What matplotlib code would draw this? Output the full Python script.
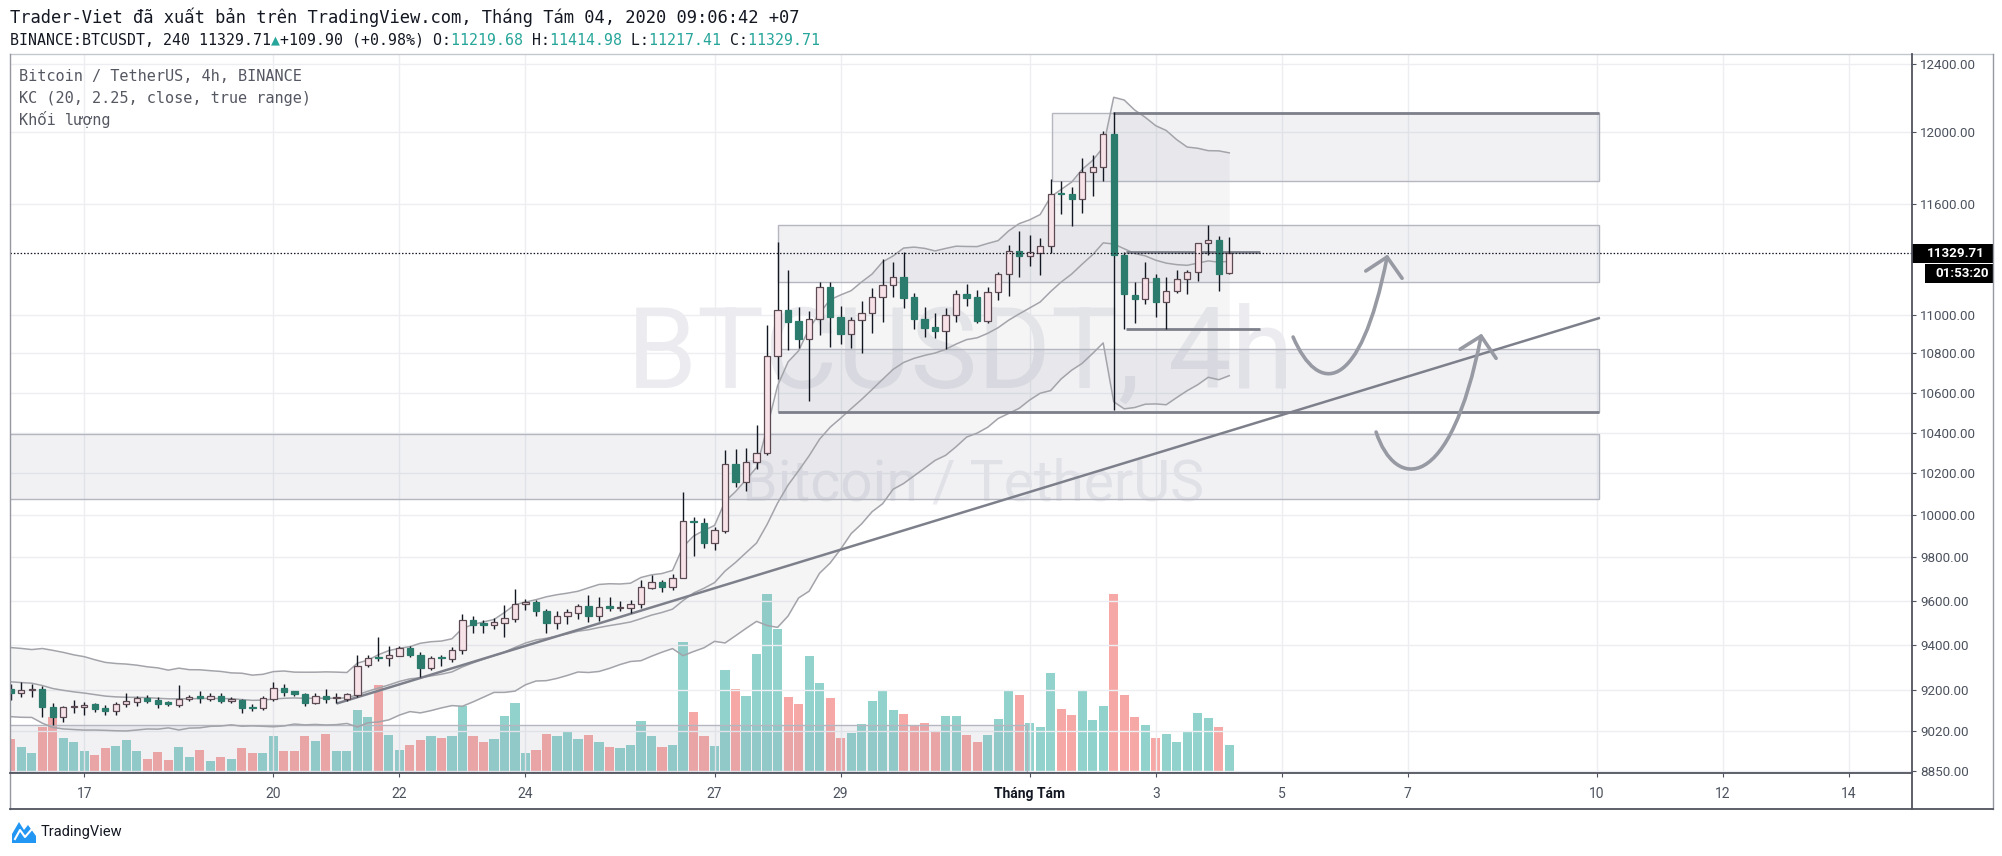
import numpy as np
import matplotlib.pyplot as plt
from matplotlib.patches import Rectangle, PathPatch, Polygon
from matplotlib.path import Path
from matplotlib.lines import Line2D
from matplotlib.ticker import NullLocator

# BINANCE:BTCUSDT 4h bars, 16 Jul - 4 Aug 2020
opens = [9203, 9186, 9200, 9203, 9124, 9080, 9124, 9124, 9137, 9120,
         9110, 9138, 9149, 9164, 9156, 9142, 9133, 9159, 9168, 9162,
         9174, 9153, 9156, 9124, 9120, 9160, 9207, 9196, 9183, 9144,
         9174, 9163, 9159, 9178, 9310, 9343, 9340, 9352, 9387, 9356,
         9298, 9343, 9338, 9375, 9511, 9494, 9491, 9500, 9517, 9585,
         9595, 9554, 9500, 9528, 9545, 9574, 9532, 9573, 9565, 9565,
         9585, 9658, 9686, 9661, 9705, 9971, 9961, 9866, 9926, 10245,
         10157, 10254, 10298, 10787, 11026, 10970, 10875, 10977, 11146, 10988,
         10899, 10973, 11008, 11092, 11158, 11200, 11092, 10977, 10935, 10918,
         11002, 11110, 11092, 10970, 11122, 11216, 11343, 11316, 11330, 11368,
         11653, 11651, 11623, 11773, 11803, 11991, 11320, 11103, 11082, 11195,
         11068, 11126, 11190, 11225, 11384, 11401, 11219.68]
highs = [9224, 9236, 9226, 9218, 9144, 9130, 9156, 9149, 9144, 9134,
         9149, 9188, 9174, 9178, 9171, 9153, 9222, 9178, 9197, 9185,
         9185, 9168, 9159, 9138, 9174, 9236, 9226, 9196, 9188, 9185,
         9203, 9188, 9188, 9353, 9353, 9437, 9393, 9393, 9393, 9368,
         9349, 9353, 9390, 9540, 9528, 9511, 9522, 9580, 9654, 9607,
         9601, 9563, 9554, 9563, 9583, 9627, 9617, 9617, 9597, 9601,
         9697, 9720, 9694, 9723, 10112, 9992, 9984, 9942, 10315, 10318,
         10323, 10438, 10948, 11391, 11238, 11041, 11022, 11176, 11176, 11047,
         10991, 11074, 11141, 11295, 11280, 11334, 11118, 11044, 11008, 11035,
         11131, 11163, 11131, 11146, 11225, 11371, 11447, 11429, 11410, 11735,
         11727, 11690, 11855, 11872, 12005, 12119, 11337, 11176, 11280, 11218,
         11203, 11238, 11238, 11386, 11482, 11423, 11414.98]
lows = [9157, 9171, 9169, 9083, 9047, 9061, 9101, 9090, 9105, 9090,
        9090, 9127, 9130, 9142, 9120, 9130, 9124, 9153, 9144, 9153,
        9142, 9142, 9098, 9110, 9112, 9153, 9174, 9174, 9130, 9138,
        9144, 9142, 9153, 9171, 9302, 9328, 9306, 9349, 9346, 9256,
        9288, 9306, 9324, 9358, 9455, 9455, 9471, 9434, 9504, 9559,
        9531, 9455, 9471, 9494, 9515, 9504, 9507, 9554, 9554, 9543,
        9565, 9654, 9640, 9647, 9703, 9806, 9842, 9835, 9913, 10136,
        10117, 10220, 10290, 10668, 10818, 10827, 10560, 10896, 10835, 10849,
        10827, 10804, 10907, 10965, 11095, 11035, 10925, 10886, 10878, 10822,
        10965, 11047, 10959, 10959, 11079, 11100, 11203, 11262, 11212, 11330,
        11540, 11474, 11547, 11642, 11727, 10513, 10925, 10956, 11060, 10991,
        10925, 11118, 11110, 11182, 11320, 11126, 11217.41]
closes = [9186, 9200, 9203, 9124, 9080, 9124, 9127, 9136, 9117, 9110,
          9138, 9152, 9164, 9153, 9137, 9140, 9159, 9168, 9166, 9175,
          9153, 9156, 9122, 9122, 9164, 9207, 9193, 9181, 9144, 9174,
          9159, 9166, 9181, 9304, 9343, 9340, 9353, 9385, 9356, 9298,
          9341, 9340, 9375, 9511, 9491, 9491, 9502, 9519, 9585, 9595,
          9554, 9500, 9531, 9546, 9574, 9532, 9573, 9568, 9568, 9585,
          9661, 9686, 9661, 9705, 9971, 9965, 9866, 9929, 10245, 10157,
          10254, 10298, 10787, 11026, 10965, 10875, 10977, 11146, 10988, 10899,
          10973, 11008, 11092, 11158, 11200, 11090, 10977, 10933, 10918, 11002,
          11108, 11090, 10970, 11122, 11216, 11343, 11316, 11334, 11368, 11651,
          11651, 11623, 11775, 11803, 11991, 11320, 11108, 11082, 11195, 11068,
          11126, 11190, 11228, 11386, 11401, 11216, 11329.71]
# volume, thousand BTC (approx.)
volumes = [5.7, 4.4, 3.4, 7.7, 9.4, 5.9, 5.1, 3.6, 3.0, 4.2,
           4.5, 5.5, 3.7, 2.3, 3.5, 2.2, 4.4, 2.7, 3.8, 2.0,
           2.6, 2.3, 4.2, 3.4, 3.4, 6.1, 3.7, 3.7, 6.1, 5.3,
           6.5, 3.7, 3.7, 10.5, 9.4, 14.7, 6.3, 3.8, 4.6, 5.5,
           6.1, 5.9, 6.2, 11.2, 6.2, 5.2, 5.7, 9.5, 11.7, 3.4,
           3.8, 6.5, 6.2, 6.8, 5.7, 6.3, 5.1, 4.4, 4.2, 4.7,
           8.6, 6.2, 4.4, 4.7, 21.8, 10.1, 6.2, 4.5, 17.2, 14.0,
           12.9, 19.8, 29.8, 24.1, 12.7, 11.5, 19.5, 15.0, 12.5, 5.8,
           6.7, 8.2, 12.0, 13.7, 10.5, 9.8, 8.0, 8.4, 6.9, 9.5,
           9.5, 6.3, 5.2, 6.3, 9.0, 13.8, 13.0, 8.4, 7.7, 16.6,
           10.6, 9.7, 13.8, 8.8, 11.2, 29.8, 13.0, 9.3, 8.0, 5.8,
           6.5, 5.1, 7.0, 10.0, 9.2, 7.7, 4.7]

first_bar = -7 / 6        # days from 17 Jul (day label positions)
bar_step = 1 / 6          # 4h
day_ticks = [0, 3, 5, 7, 10, 12, 15, 17, 19, 21, 24, 26, 28]
day_labels = ["17", "20", "22", "24", "27", "29", "Tháng Tám", "3", "5", "7", "10", "12", "14"]
price_ticks = [8850, 9020, 9200, 9400, 9600, 9800, 10000, 10200, 10400, 10600,
               10800, 11000, 11600, 12000, 12400]
last_price = 11329.71

kc_length, kc_mult = 20, 2.25
kc_basis_start, kc_range_start = 9241, 67.6   # band state at the left edge

W, H = 2002, 856
def fx(x): return x / W
def fy(y): return 1 - y / H

fig = plt.figure(figsize=(W / 100, H / 100), dpi=100)
fig.patch.set_facecolor("white")
ax = fig.add_axes([fx(10), fy(773), (1912 - 10) / W, (773 - 53.6) / H])
ax2 = ax.twinx()
ax.set_zorder(ax2.get_zorder() + 1)
ax.patch.set_visible(False)
ax2.set_axis_off()

n = len(closes)
x = first_bar + np.arange(n) * bar_step
o = np.array(opens); h = np.array(highs); l = np.array(lows); c = np.array(closes)
up = c >= o

# volume
vol_col = np.where(up, "#26a69a", "#ef5350")
ax2.bar(x, volumes, width=0.145, color=vol_col, alpha=0.5, linewidth=0)
ax2.set_ylim(0, 120)

ax.set_yscale("log")
ax.set_xlim(-1.179, 29.0)
ax.set_ylim(8843, 12459)

# Keltner channel
prev_c = np.r_[c[0], c[:-1]]
tr = np.maximum(h - l, np.maximum(abs(h - prev_c), abs(l - prev_c)))
k = 2 / (kc_length + 1)
b, r = kc_basis_start, kc_range_start
basis, rng = [], []
for ci, ti in zip(c, tr):
    b += k * (ci - b)
    r += k * (ti - r)
    basis.append(b)
    rng.append(r)
basis = np.array(basis); rng = np.array(rng)
upper = basis + kc_mult * rng
lower = basis - kc_mult * rng
ax.fill_between(x, lower, upper, color="#787b86", alpha=0.07, lw=0, zorder=1)
for band in (upper, basis, lower):
    ax.plot(x, band, color="#a3a4aa", lw=1.1, zorder=2)

# drawings
box_kw = dict(facecolor=(0.5, 0.52, 0.63, 0.11), edgecolor="#b4b7c0", lw=1, zorder=1.5)
for d0, d1, p0, p1 in [(11.01, 24.03, 11176, 11482), (15.35, 24.03, 11725, 12110),
                       (11.01, 24.03, 10505, 10822), (-2, 24.03, 10076, 10393),
                       (-2, 14.96, 8800, 9048)]:
    ax.add_patch(Rectangle((d0, p0), d1 - d0, p1 - p0, **box_kw))

line_kw = dict(color="#7d808a", lw=2, zorder=2.5, solid_capstyle="butt")
ax.plot([16.33, 24.03], [12110, 12110], **line_kw)
ax.plot([11.01, 24.03], [10505, 10505], **line_kw)
ax.plot([16.53, 18.66], [11337, 11337], **line_kw)
ax.plot([16.53, 18.66], [10925, 10925], **line_kw)
ax.plot([4.02, 24.03], [9142, 10983], color="#7d808a", lw=1.8, zorder=2.5)

arrow_kw = dict(edgecolor="#979aa3", facecolor="none", lw=2.6, zorder=5, capstyle="round")
for curve, head in [
    ([(19.18, 10885), (19.576, 10588), (20.242, 10588), (20.671, 11308)],
     [(20.333, 11233), (20.671, 11308), (20.909, 11194)]),
    ([(20.497, 10403), (20.798, 10120), (21.671, 10096), (22.163, 10890)],
     [(21.830, 10822), (22.163, 10890), (22.401, 10775)]),
]:
    ax.add_patch(PathPatch(Path(curve, [Path.MOVETO, Path.CURVE4, Path.CURVE4, Path.CURVE4]), **arrow_kw))
    ax.add_patch(PathPatch(Path(head, [Path.MOVETO, Path.LINETO, Path.LINETO]), joinstyle="round", **arrow_kw))

# candles
ax.vlines(x, l, h, color="#131722", lw=1, zorder=3)
body_lo = np.minimum(o, c)
body_h = np.maximum(abs(c - o), c * 0.0006)
ax.bar(x, body_h, bottom=body_lo, width=0.1,
       color=np.where(up, "#f7e2e8", "#2b7c6c"),
       edgecolor=np.where(up, "#5b4a51", "#2b7c6c"), linewidth=0.9, zorder=4)

ax.axhline(last_price, color="#131722", lw=0.9, ls=(0, (1.2, 1.5)), zorder=6)

# watermark
ax.text(0.4995, 0.578, "BTCUSDT, 4h", transform=ax.transAxes, ha="center", va="center",
        fontsize=81, family="Roboto", color="#ececf0", zorder=0.8)
ax.text(0.5063, 0.40, "Bitcoin / TetherUS", transform=ax.transAxes, ha="center", va="center",
        fontsize=41, family="Roboto", color="#ececf0", zorder=0.8)

# axes
for s in ax.spines.values():
    s.set_visible(False)
ax.grid(True, color="#eceef1", lw=1, zorder=0.5)
ax.set_axisbelow(True)
ax.yaxis.tick_right()
ax.yaxis.set_minor_locator(NullLocator())
ax.set_yticks(price_ticks)
ax.set_yticklabels([f"{p:.2f}" for p in price_ticks])
ax.set_xticks(day_ticks)
ax.set_xticklabels(day_labels)
ax.tick_params(axis="y", direction="out", length=3, pad=3, colors="#4c525e", labelsize=9.6)
ax.tick_params(axis="x", direction="out", length=3, pad=7, colors="#4c525e", labelsize=10)
for t in ax.get_yticklabels() + ax.get_xticklabels():
    t.set_family(["Roboto", "DejaVu Sans"])
for t in ax.get_xticklabels():
    if t.get_text() == "Tháng Tám":
        t.set_fontweight("bold")
        t.set_color("#131722")

# frame
def fline(xs, ys, color="#9598a1", lw=1):
    fig.add_artist(Line2D([fx(v) for v in xs], [fy(v) for v in ys], color=color, lw=lw,
                          transform=fig.transFigure))
fline([10, 1993], [53.6, 53.6], "#c4c7ce")
fline([10, 10], [53.6, 809])
fline([1993, 1993], [53.6, 809])
fline([10, 1993], [809, 809], "#50535e", 1.3)
fline([10, 1912], [773, 773], "#50535e", 1.3)
fline([1912, 1912], [53.6, 809], "#50535e", 1.3)

# last price labels
for (x0, x1, y0, y1, txt) in [(1912, 1993, 244, 263, "11329.71"), (1925, 1993, 264, 283, "01:53:20")]:
    fig.patches.append(Rectangle((fx(x0), fy(y1)), (x1 - x0) / W, (y1 - y0) / H,
                                 transform=fig.transFigure, facecolor="black", edgecolor="none"))
    fig.text(fx((x0 + x1) / 2 + 3), fy((y0 + y1) / 2), txt, ha="center", va="center",
             color="white", fontsize=9.6, fontweight="bold", family="Roboto")

# header
mono = ["DejaVu Sans Mono", "DejaVu Sans", "Noto Sans"]
fig.text(fx(10), fy(17), "Trader-Viet đã xuất bản trên TradingView.com, Tháng Tám 04, 2020 09:06:42 +07",
         family=mono, fontsize=12.3, va="center", color="#131722")
segments = [("BINANCE:BTCUSDT, 240 11329.71", 0), ("▲", 1), ("+109.90 (+0.98%) O:", 0),
            ("11219.68", 1), (" H:", 0), ("11414.98", 1), (" L:", 0), ("11217.41", 1),
            (" C:", 0), ("11329.71", 1)]
for which, color in [(0, "#131722"), (1, "#26a69a")]:
    s = "".join(t if w == which else " " * len(t) for t, w in segments)
    fig.text(fx(10), fy(40), s, family=mono, fontsize=10.7, va="center", color=color)

for i, txt in enumerate(["Bitcoin / TetherUS, 4h, BINANCE", "KC (20, 2.25, close, true range)", "Khối lượng"]):
    fig.text(fx(19), fy(76.6 + 21.7 * i), txt, family=mono, fontsize=11, va="center", color="#555862")

# TradingView logo
fig.patches.append(Polygon([(fx(12), fy(843)), (fx(12), fy(834)), (fx(19), fy(822)), (fx(24), fy(830)),
                            (fx(28), fy(825)), (fx(36), fy(836)), (fx(36), fy(843))],
                           closed=True, transform=fig.transFigure, facecolor="#2196f3", edgecolor="none"))
fig.add_artist(Line2D([fx(15), fx(20), fx(25), fx(32)], [fy(839), fy(830), fy(837), fy(829)],
                      color="white", lw=1.5, transform=fig.transFigure))
fig.text(fx(41), fy(832), "TradingView", family="Roboto", fontsize=10.5, va="center", color="#131722")

fig.savefig("out.png", dpi=100)
